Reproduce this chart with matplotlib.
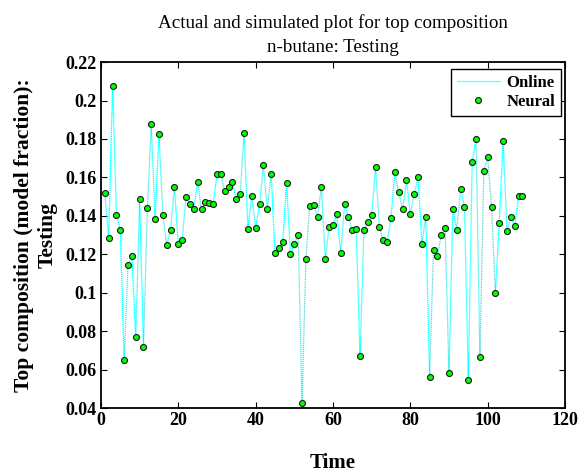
import numpy as np
import matplotlib
matplotlib.use('Agg')
import matplotlib.pyplot as plt

# valores (composicion de cabeza, n-butano, prueba)
neural = [0.1517, 0.1284, 0.2077, 0.1407, 0.1327, 0.0651, 0.1147, 0.1189, 0.0769, 0.1486,
          0.0717, 0.1439, 0.1876, 0.1385, 0.1824, 0.1407, 0.1248, 0.1327, 0.1550, 0.1253,
          0.1276, 0.1498, 0.1460, 0.1434, 0.1576, 0.1434, 0.1470, 0.1468, 0.1460, 0.1617,
          0.1617, 0.1527, 0.1548, 0.1574, 0.1486, 0.1512, 0.1829, 0.1333, 0.1501, 0.1336,
          0.1460, 0.1664, 0.1434, 0.1617, 0.1206, 0.1232, 0.1262, 0.1569, 0.1201, 0.1253,
          0.1302, 0.0429, 0.1174, 0.1454, 0.1458, 0.1395, 0.1548, 0.1174, 0.1342, 0.1354,
          0.1411, 0.1206, 0.1460, 0.1392, 0.1327, 0.1331, 0.0669, 0.1327, 0.1369, 0.1402,
          0.1654, 0.1343, 0.1272, 0.1262, 0.1390, 0.1628, 0.1522, 0.1434, 0.1586, 0.1411,
          0.1512, 0.1600, 0.1255, 0.1395, 0.0563, 0.1222, 0.1189, 0.1302, 0.1336, 0.0583,
          0.1434, 0.1327, 0.1539, 0.1446, 0.0546, 0.1680, 0.1801, 0.0664, 0.1631, 0.1707,
          0.1447, 0.1000, 0.1364, 0.1791, 0.1322, 0.1395, 0.1348, 0.1501, 0.1501]
online = neural
t = np.arange(1, len(neural) + 1)

xticks = [0, 20, 40, 60, 80, 100, 120]
yticks = [0.04, 0.06, 0.08, 0.1, 0.12, 0.14, 0.16, 0.18, 0.2, 0.22]
ylabs = ['0.04', '0.06', '0.08', '0.1', '0.12', '0.14', '0.16', '0.18', '0.2', '0.22']

plt.rcParams['font.family'] = ['Liberation Serif', 'DejaVu Serif']

fig = plt.figure(figsize=(5.87, 4.74), dpi=100)
ax = fig.add_axes([0.172, 0.139, 0.7905, 0.73])

ax.plot(t, online, color='#00ffff', lw=0.9, ls=(0, (1, 0.6)), label='Online')
ax.plot(t, neural, ls='none', marker='o', ms=4.3, mfc='#00ff00', mec='#1a1a1a',
        mew=0.8, label='Neural')

ax.set_xlim(0, 120)
ax.set_ylim(0.04, 0.22)
ax.set_xticks(xticks)
ax.set_xticklabels([str(v) for v in xticks], fontweight='bold', fontsize=13)
ax.set_yticks(yticks)
ax.set_yticklabels(ylabs, fontweight='bold', fontsize=13)
ax.tick_params(direction='in', top=True, right=True, length=4, width=0.8, pad=3)
for s in ax.spines.values():
    s.set_linewidth(1.3)

ax.set_title('Actual and simulated plot for top composition\nn-butane: Testing',
             fontsize=13.7, linespacing=1.55, pad=7)
ax.set_xlabel('Time', fontweight='bold', fontsize=15, labelpad=17)
ax.set_ylabel('Top composition (model fraction):\nTesting', fontweight='bold',
              fontsize=15.5, linespacing=1.2, labelpad=6)

leg = ax.legend(loc='upper right', bbox_to_anchor=(0.992, 0.98),
                prop={'weight': 'bold', 'size': 12},
                fancybox=False, edgecolor='black', framealpha=1,
                borderaxespad=0, handlelength=2.6, labelspacing=0.2,
                borderpad=0.35, handletextpad=0.4)
leg.get_frame().set_linewidth(1.0)

fig.savefig('out.png', dpi=100)
